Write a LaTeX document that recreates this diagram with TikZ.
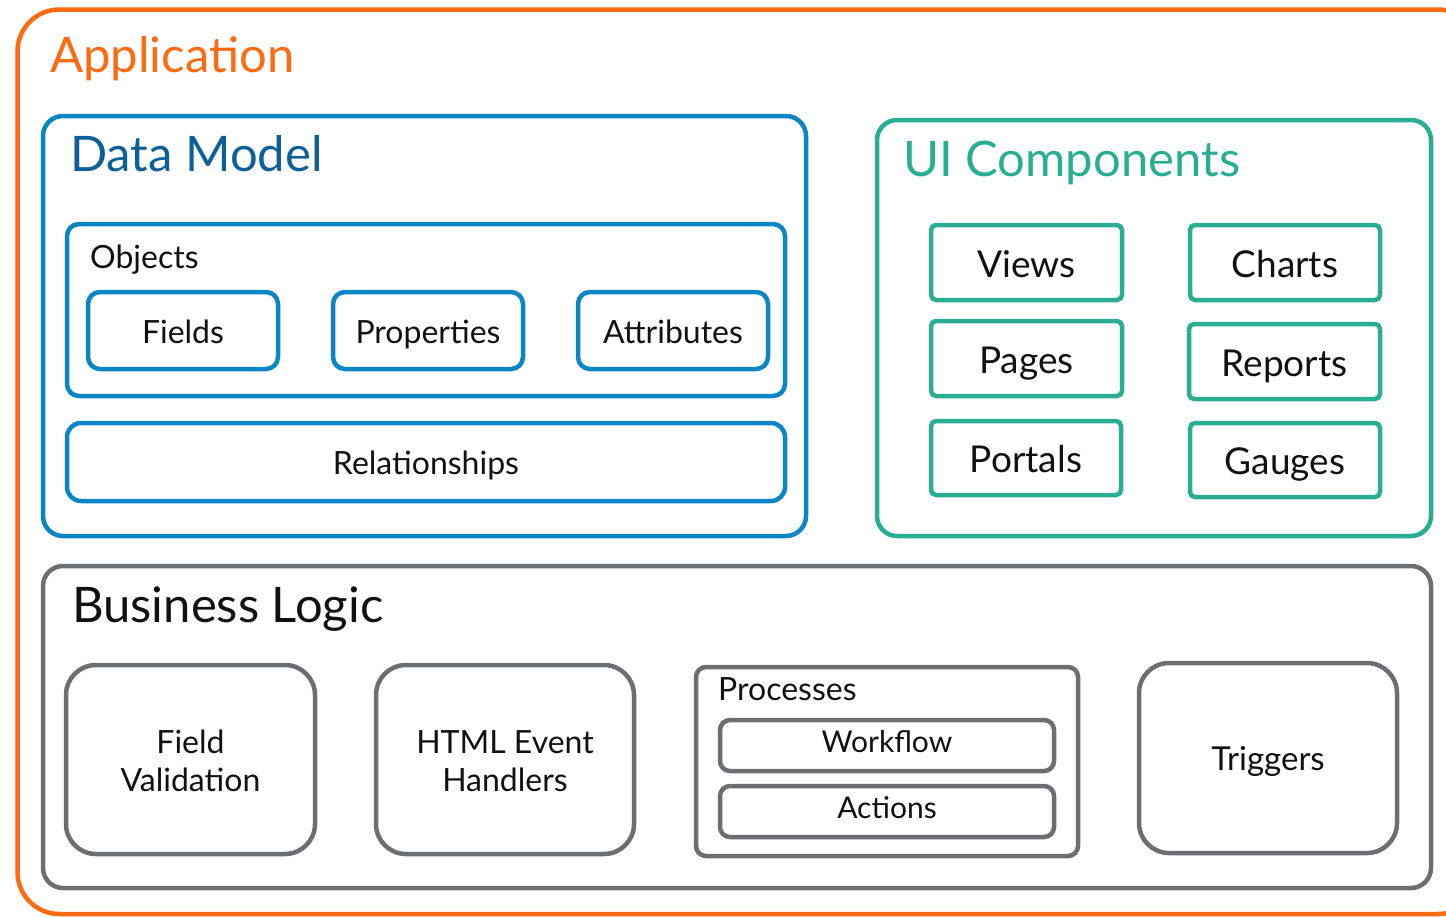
\documentclass[tikz,border=0pt]{standalone}
\usepackage{fontspec}
\setmainfont{Lato}
\definecolor{appor}{HTML}{FF6A13}
\definecolor{dmblue}{HTML}{0A86C6}
\definecolor{dmtext}{HTML}{0D5F98}
\definecolor{uiteal}{HTML}{2AAE93}
\definecolor{blgray}{HTML}{6D6E72}
\definecolor{txt}{HTML}{111111}
\tikzset{
  box/.style={draw, line width=4.5pt, inner sep=0pt, outer sep=0pt, anchor=north west, align=center, text=txt,
    text depth=0pt},
  title/.style={anchor=base west, inner sep=0pt, font=\fontsize{49}{56}\selectfont},
  sub/.style={anchor=base west, inner sep=0pt, text=txt, font=\fontsize{32}{36}\selectfont},
  blue/.style={box, draw=dmblue, font=\fontsize{32}{36}\selectfont, text height=25pt},
  teal/.style={box, draw=uiteal, rounded corners=5pt, font=\fontsize{37}{42}\selectfont, text height=29pt},
  gray/.style={box, draw=blgray, font=\fontsize{32}{38}\selectfont, text height=64pt},
  grays/.style={box, draw=blgray, font=\fontsize{30}{36}\selectfont, text height=13pt},
}
\newcommand{\bx}[7]{\node[#1, minimum width=#4pt-#2pt, minimum height=#5pt-#3pt] (#6) at (#2,#3) {#7};}
\begin{document}
\begin{tikzpicture}[x=1pt,y=-1pt]
\useasboundingbox (0,0) rectangle (1446,918);
% Application
\bx{box, draw=appor, rounded corners=42pt}{17.5}{9.5}{1480}{914}{app}{}
\node[title, text=appor] (apptitle) at (50,72) {Application};
% Data Model
\bx{box, draw=dmblue, rounded corners=20pt}{43}{116}{806}{536}{dm}{}
\node[title, text=dmtext] (dmtitle) at (70,171) {Data Model};
\bx{blue, rounded corners=12pt}{67}{224}{785}{396}{obj}{}
\node[sub] (objtitle) at (90,268) {Objects};
\bx{blue, rounded corners=12pt}{88}{292}{278}{369}{fields}{Fields}
\bx{blue, rounded corners=12pt}{333}{292}{523}{369}{props}{Properties}
\bx{blue, rounded corners=12pt}{578}{292}{768}{369}{attrs}{Attributes}
\bx{blue, rounded corners=14pt}{67}{423}{785}{501}{rel}{Relationships}
% UI Components
\bx{box, draw=uiteal, rounded corners=20pt}{877}{120}{1431}{536}{ui}{}
\node[title, text=uiteal] (uititle) at (903,176) {UI Components};
\bx{teal}{931}{225}{1122}{300}{views}{Views}
\bx{teal}{1190}{225}{1380}{300}{charts}{Charts}
\bx{teal}{931}{321}{1122}{396}{pages}{Pages}
\bx{teal}{1189}{324}{1380}{399}{reports}{Reports}
\bx{teal}{931}{421}{1121}{495}{portals}{Portals}
\bx{teal}{1190}{423}{1380}{497}{gauges}{Gauges}
% Business Logic
\bx{box, draw=blgray, rounded corners=20pt}{43}{566}{1431}{888}{bl}{}
\node[title, text=txt] (bltitle) at (72,622) {Business Logic};
\bx{gray, rounded corners=30pt}{66}{665}{315}{854}{fv}{Field\\Validation}
\bx{gray, rounded corners=30pt}{376}{665}{634}{854}{html}{HTML Event\\Handlers}
\bx{gray, rounded corners=10pt}{696}{667}{1078}{856}{proc}{}
\node[sub] (proctitle) at (718,700) {Processes};
\bx{grays, rounded corners=10pt}{720}{720}{1054}{771}{wf}{Workflow}
\bx{grays, rounded corners=10pt}{720}{786}{1054}{837}{act}{Actions}
\bx{gray, rounded corners=30pt, font=\fontsize{33}{38}\selectfont, text height=24pt}{1139}{663}{1397}{853}{trig}{Triggers}
\end{tikzpicture}
\end{document}
